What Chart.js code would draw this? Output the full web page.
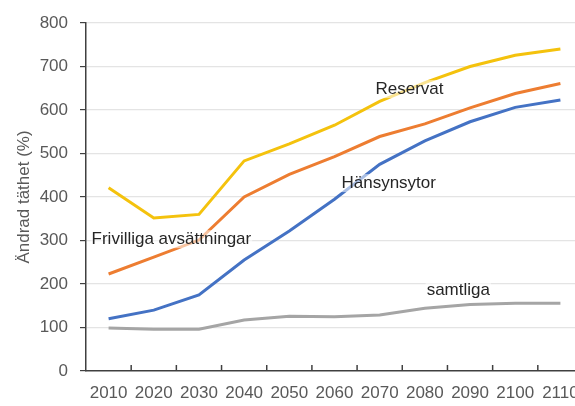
<!DOCTYPE html>
<html>
<head>
<meta charset="utf-8">
<script src="https://cdn.jsdelivr.net/npm/chart.js@4.4.1/dist/chart.umd.min.js"></script>
<style>
    html, body { margin: 0; padding: 0; background: #fff; overflow: hidden; }
    #wrap { width: 600px; height: 406px; }
</style>
</head>
<body>
<div id="wrap"><canvas id="chart" width="600" height="406"></canvas></div>
<script>
const years = ['2010', '2020', '2030', '2040', '2050', '2060', '2070', '2080', '2090', '2100', '2110'];
const reservat = [421, 352, 360, 483, 522, 565, 620, 663, 700, 726, 740];
const frivilliga = [223, 262, 301, 400, 452, 493, 539, 568, 605, 638, 661];
const hansyn = [120, 140, 175, 255, 322, 395, 475, 529, 573, 606, 623];
const samtliga = [99, 96, 96, 117, 126, 125, 129, 144, 153, 156, 156];
const yTicks = [0, 100, 200, 300, 400, 500, 600, 700, 800];

// series names drawn next to the lines: [text, category index, value]
const seriesLabels = [
    ['Reservat', 6.66, 648],
    ['Hänsynsytor', 6.2, 432],
    ['Frivilliga avsättningar', 1.39, 303],
    ['samtliga', 7.74, 186]
];

const labelPlugin = {
    id: 'labelPlugin',
    afterDatasetsDraw(chart) {
        const ctx = chart.ctx;
        const xs = chart.scales.x;
        const ys = chart.scales.y;
        ctx.save();
        ctx.font = '17px "Liberation Sans", Arial, sans-serif';
        ctx.textAlign = 'center';
        ctx.textBaseline = 'middle';
        seriesLabels.forEach(l => {
            const x = xs.getPixelForValue(0) + l[1] * (xs.getPixelForValue(1) - xs.getPixelForValue(0));
            const y = ys.getPixelForValue(l[2]);
            const w = ctx.measureText(l[0]).width;
            ctx.fillStyle = 'rgba(255,255,255,0.55)';
            ctx.fillRect(x - w / 2 - 1, y - 9, w + 2, 18);
            ctx.fillStyle = '#262626';
            ctx.fillText(l[0], x, y);
        });
        // x-axis ticks pointing up into the plot
        const step = xs.getPixelForValue(1) - xs.getPixelForValue(0);
        ctx.strokeStyle = '#404040';
        ctx.lineWidth = 1.5;
        for (let i = 1; i < years.length; i++) {
            const x = xs.getPixelForValue(i) - step / 2;
            ctx.beginPath();
            ctx.moveTo(x, xs.top);
            ctx.lineTo(x, xs.top - 6);
            ctx.stroke();
        }
        ctx.restore();
    }
};

function line(data, color) {
    return {
        data: data,
        borderColor: color,
        backgroundColor: color,
        borderWidth: 3,
        pointRadius: 0,
        tension: 0,
        fill: false
    };
}

new Chart(document.getElementById('chart').getContext('2d'), {
    type: 'line',
    data: {
        labels: years,
        datasets: [
            line(samtliga, '#A5A5A5'),
            line(hansyn, '#4472C4'),
            line(frivilliga, '#ED7D31'),
            line(reservat, '#F4C20D')
        ]
    },
    options: {
        responsive: false,
        animation: false,
        events: [],
        layout: { padding: { top: 23, right: 17, left: 0, bottom: 0 } },
        plugins: { legend: { display: false }, tooltip: { enabled: false } },
        scales: {
            x: {
                offset: true,
                grid: { display: false, drawTicks: false },
                border: { color: '#404040', width: 1.5 },
                ticks: {
                    padding: 12,
                    color: '#595959',
                    maxRotation: 0,
                    autoSkip: false,
                    font: { family: '"Liberation Sans", Arial, sans-serif', size: 17 }
                },
                afterFit(scale) { scale.height = 35; }
            },
            y: {
                min: 0,
                max: 800,
                afterBuildTicks(scale) { scale.ticks = yTicks.map(v => ({ value: v })); },
                grid: {
                    color: ctx => ctx.tick && ctx.tick.value === 0 ? 'rgba(0,0,0,0)' : '#E4E4E4',
                    tickColor: '#404040',
                    tickLength: 6,
                    lineWidth: 1.2
                },
                border: { color: '#404040', width: 1.5 },
                ticks: {
                    padding: 12,
                    color: '#595959',
                    font: { family: '"Liberation Sans", Arial, sans-serif', size: 17 }
                },
                title: {
                    display: true,
                    text: 'Ändrad täthet (%)',
                    color: '#595959',
                    padding: { top: 14, bottom: 0 },
                    font: { family: '"Liberation Sans", Arial, sans-serif', size: 17 }
                },
                afterFit(scale) { scale.width = 86; }
            }
        }
    },
    plugins: [labelPlugin]
});
</script>
</body>
</html>
